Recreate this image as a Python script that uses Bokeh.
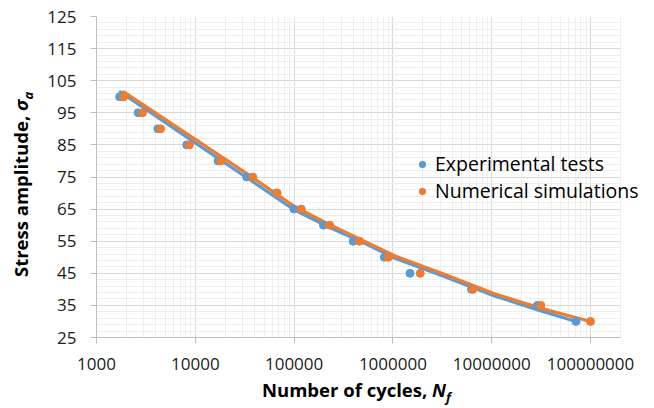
from bokeh.plotting import figure
from bokeh.models import (Range1d, FixedTicker, NumeralTickFormatter, Div,
                          Legend, LegendItem, BoxAnnotation)
from bokeh.layouts import row, column
from bokeh.embed import file_html
from bokeh.resources import INLINE

# ---- data ----
exp_cycles = [1715, 2640, 4180, 8180, 17000, 33100, 66000, 99500, 198000,
              396000, 820000, 1490000, 6240000, 29000000, 71300000]
exp_stress = [100, 95, 90, 85, 80, 75, 70, 65, 60, 55, 50, 45, 40, 35, 30]

num_cycles = [1885, 2920, 4450, 8710, 18100, 38100, 67300, 118000, 229000,
              459000, 899000, 1890000, 6440000, 31400000, 100000000]
num_stress = [100, 95, 90, 85, 80, 75, 70, 65, 60, 55, 50, 45, 40, 35, 30]

# fitted curves
exp_fit_cycles = [1742, 10000, 36600, 100000, 221000, 482000, 1050000,
                  3160000, 10500000, 31600000, 71300000]
exp_fit_stress = [101.5, 85.6, 73.9, 64.8, 59.5, 54.8, 49.7, 44.2, 38.0, 33.3, 30.0]

num_fit_cycles = [1885, 10000, 36600, 100900, 221000, 482000, 1050000,
                  3160000, 10500000, 31600000, 100000000]
num_fit_stress = [101.5, 86.7, 75.2, 65.8, 60.4, 55.4, 50.4, 44.9, 38.7, 34.1, 30.0]

x_major = [1e3, 1e4, 1e5, 1e6, 1e7, 1e8]
x_minor = [m * d for d in x_major[:-1] for m in range(2, 10)] + [2e8]
x_axis_end = 2e8
y_major = [25, 35, 45, 55, 65, 75, 85, 95, 105, 115, 125]
y_minor = [v for v in range(27, 125, 2) if v not in y_major]

BLUE = "#5B9BD5"
ORANGE = "#ED7D31"
FONT = "Open Sans"
TXT = "#1A1A1A"

p = figure(width=614, height=388, x_axis_type="log",
           x_range=Range1d(1e3, 4.44e8), y_range=Range1d(25, 125),
           output_backend="svg", toolbar_location=None,
           min_border_left=56, min_border_right=0,
           min_border_top=16, min_border_bottom=51)
p.outline_line_color = None
p.background_fill_color = "white"
p.border_fill_color = "white"

p.xaxis.ticker = FixedTicker(ticks=x_major, minor_ticks=x_minor)
p.yaxis.ticker = FixedTicker(ticks=y_major, minor_ticks=y_minor)
p.xaxis.formatter = NumeralTickFormatter(format="0")
p.xaxis.bounds = (1e3, x_axis_end)

for ax in (p.xaxis, p.yaxis):
    ax.axis_line_color = "#BFBFBF"
    ax.major_tick_line_color = "#BFBFBF"
    ax.major_tick_out = 6
    ax.major_tick_in = 0
    ax.minor_tick_line_color = None
    ax.major_label_text_font = FONT
    ax.major_label_text_font_size = "17px"
    ax.major_label_text_color = TXT
p.xaxis.major_label_standoff = 14
p.yaxis.major_label_standoff = 14

for g in (p.xgrid, p.ygrid):
    g.grid_line_color = "#D9D9D9"
    g.minor_grid_line_color = "#EEEEEE"

p.line(exp_fit_cycles, exp_fit_stress, line_width=3.2, color=BLUE,
       line_join="round", line_cap="round")
p.line(num_fit_cycles, num_fit_stress, line_width=3.2, color=ORANGE,
       line_join="round", line_cap="round")
r_exp = p.scatter(exp_cycles, exp_stress, size=8, color=BLUE)
r_num = p.scatter(num_cycles, num_stress, size=8, color=ORANGE)

# blank area right of the plot area (gridlines stop at 2e8)
p.add_layout(BoxAnnotation(left=2.03e8, right=1e10, bottom=0, top=200,
                           fill_color="white", fill_alpha=1.0, line_color=None))

legend = Legend(items=[LegendItem(label="Experimental tests", renderers=[r_exp]),
                       LegendItem(label="Numerical simulations", renderers=[r_num])],
                location=(318, 133))
legend.background_fill_alpha = 0
legend.border_line_color = None
legend.padding = 0
legend.margin = 0
legend.spacing = 0
legend.glyph_width = 16
legend.glyph_height = 26
legend.label_height = 26
legend.label_standoff = 5
legend.label_text_font = FONT
legend.label_text_font_size = "19.5px"
legend.label_text_color = "#000000"
p.add_layout(legend)

# axis titles with italic, subscripted symbols
y_title = Div(
    text=("<div style=\"position:relative; left:9px; top:277px; "
          "width:max-content; white-space:nowrap; transform-origin:0 0; "
          "transform:rotate(-90deg); font-family:'Open Sans'; font-weight:bold; "
          "font-size:18.5px; line-height:24px; color:#000;\">"
          "Stress amplitude, <i>&sigma;<sub style=\"font-size:13px\">a</sub></i></div>"),
    width=40, height=388, margin=0)
x_title = Div(
    text=("<div style=\"position:relative; top:-10px; padding-left:262px; "
          "white-space:nowrap; font-family:'Open Sans'; font-weight:bold; "
          "font-size:18.5px; line-height:24px; color:#000;\">"
          "Number of cycles, <i>N<sub style=\"font-size:13px\">f</sub></i></div>"),
    width=654, height=20, margin=0)

layout = column(row(y_title, p, spacing=0), x_title, spacing=0)

open("out.html", "w").write(file_html(layout, INLINE))
